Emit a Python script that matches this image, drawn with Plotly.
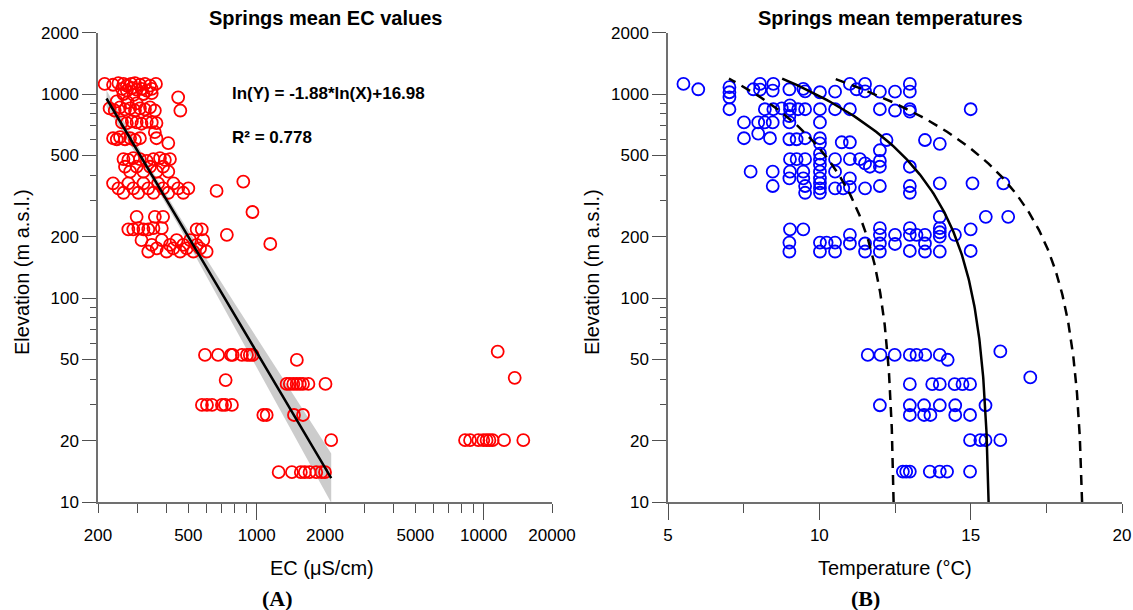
import numpy as np
import plotly.graph_objects as go

W, H = 1133, 610

# ---------------- Panel A data: EC (uS/cm) vs elevation (m a.s.l.) ----------------
ec_uScm = [
    214, 233, 246, 259, 268, 280, 291, 306, 322, 339, 360,
    255, 268, 282, 296, 311, 328, 345,
    259, 287, 317, 345,
    451, 461,
    242, 270, 296,
    225, 237, 250, 263, 277, 291, 306, 322, 339, 356,
    255, 268, 282, 296, 311, 328, 345, 362,
    356, 362, 408,
    233, 242, 250, 263, 277, 291, 306,
    259, 272, 286, 306, 328, 351, 375, 394, 415,
    263, 277, 296, 317, 339, 362, 387, 408,
    233, 246, 259, 272, 286, 301, 317, 333, 351, 368, 387, 408, 430, 451, 475, 500,
    666, 873, 958,
    296, 356, 387,
    272, 286, 301, 317, 333, 351, 382, 544, 573,
    739, 1148,
    311, 333, 345, 363, 382, 401, 415, 429, 444, 460, 475, 492, 509, 526, 544, 563, 582, 602,
    592, 676, 770, 784, 861, 906, 933, 960,
    1503, 730,
    1355, 1400, 1450, 1500, 1550, 1600, 1690, 2010,
    574, 604, 636, 703, 727, 778,
    1070, 1107, 1460, 1600,
    2130,
    1250, 1430, 1565, 1630, 1710, 1830, 1930, 2000,
    11530, 13700,
    8280, 8710, 9470, 9960, 10300, 10600, 10950, 12300, 14950,
]
ec_elev_m = [
    1120, 1110, 1130, 1120, 1100, 1120, 1130, 1110, 1120, 1100, 1120,
    1060, 1040, 1070, 1050, 1060, 1040, 1060,
    1000, 990, 1000, 1010,
    963, 830,
    920, 910, 900,
    850, 830, 860, 840, 850, 830, 850, 840, 860, 830,
    726, 720, 735, 726, 715, 730, 726, 720,
    650, 607, 575,
    607, 600, 615, 600, 607, 595, 607,
    480, 475, 485, 480, 470, 480, 485, 475, 480,
    440, 416, 440, 416, 440, 416, 440, 416,
    365, 345, 328, 365, 345, 328, 365, 345, 328, 365, 345, 328, 365, 345, 328, 345,
    335, 372, 264,
    250, 250, 250,
    217, 217, 220, 217, 217, 220, 220, 217, 217,
    204, 184,
    192, 169, 182, 175, 192, 169, 182, 175, 192, 169, 182, 175, 192, 169, 182, 175, 192, 169,
    52.6, 52.6, 52.6, 52.6, 52.6, 52.6, 52.6, 52.6,
    49.7, 39.6,
    37.9, 37.9, 37.9, 37.9, 37.9, 37.9, 37.9, 37.9,
    29.9, 29.9, 29.9, 29.9, 29.9, 29.9,
    26.7, 26.7, 26.7, 26.7,
    20.1,
    14.0, 14.0, 14.0, 14.0, 14.0, 14.0, 14.0, 14.0,
    54.6, 40.6,
    20.1, 20.1, 20.1, 20.1, 20.1, 20.1, 20.1, 20.1, 20.1,
]

# regression ln(Y) = b*ln(X) + a, and its confidence band parameters
reg_slope = -1.88
reg_intercept = 16.98
reg_ec_range = [218, 2130]
band_c0, band_c1, band_center_ln = 0.05, 0.155, 5.9

# ---------------- Panel B data: temperature (C) vs elevation ----------------
temp_c = [
    5.51, 6.0, 7.03, 7.03, 7.03, 7.82, 8.04, 8.04, 8.48, 8.46, 9.01, 9.47, 9.53, 10.02, 10.52,
    11.01, 11.23, 11.51, 11.51, 12.0, 12.5, 12.99, 12.99,
    7.03, 8.2, 8.48, 8.76, 9.03, 9.03, 9.3, 9.53, 10.02, 10.52, 11.01, 12.0, 12.5, 12.99, 12.99, 15.0,
    7.51, 7.98, 8.2, 8.46, 9.01, 9.01, 10.02,
    7.51, 7.98, 8.37, 9.01, 9.25, 9.53, 10.02, 10.02, 10.74, 11.01, 12.22, 13.49, 13.98,
    9.03, 9.25, 9.53, 10.02, 10.02, 10.02, 10.52, 11.01, 11.34, 11.51, 11.67, 12.0, 12.0, 12.0, 12.99,
    7.73, 8.46, 9.03, 9.47, 10.02, 10.52,
    8.46, 9.01, 9.47, 9.53, 9.53, 10.02, 10.02, 10.02, 10.02, 10.52, 10.79, 11.01, 11.01, 11.51,
    12.0, 12.99, 12.99, 13.98, 15.06, 16.08,
    9.03, 9.47, 9.01, 9.01, 10.02, 10.02, 10.24, 10.52, 10.52, 11.01, 11.01, 11.51, 11.51, 12.0,
    12.0, 12.0, 12.0, 12.5, 12.5, 12.99, 12.99, 12.99, 13.21, 13.49, 13.49, 13.49, 13.98, 13.98,
    13.98, 13.98, 13.98, 14.48, 15.0, 15.0, 15.5, 16.24,
    11.6, 12.02, 12.49, 12.99, 13.21, 13.5, 13.98, 14.24, 15.98, 16.97,
    12.99, 13.73, 13.98, 14.47, 14.73, 14.98,
    12.0, 12.99, 13.46, 13.98, 14.49, 15.49,
    12.99, 13.46, 13.67, 14.49, 14.98,
    14.98, 15.32, 15.49, 15.98,
    12.76, 12.87, 12.99, 13.65, 13.98, 14.22, 14.98,
]
temp_elev_m = [
    1120, 1055, 1080, 1020, 963, 1055, 1120, 1050, 1120, 1040, 1055, 1060, 1030, 1020, 1027,
    1120, 1055, 1120, 1030, 1027, 1027, 1120, 1027,
    842, 842, 842, 850, 880, 842, 842, 842, 842, 842, 842, 842, 830, 842, 820, 842,
    726, 726, 726, 726, 780, 726, 726,
    607, 640, 607, 600, 600, 607, 607, 573, 580, 580, 595, 595, 570,
    479, 479, 479, 510, 479, 450, 479, 479, 479, 457, 440, 470, 530, 440, 440,
    416, 416, 416, 416, 416, 416,
    354, 386, 386, 354, 328, 386, 365, 345, 328, 345, 345, 386, 350, 345,
    354, 354, 328, 365, 365, 365,
    217, 217, 187, 169, 187, 169, 187, 187, 169, 204, 185, 185, 169, 220,
    204, 185, 169, 204, 184, 220, 204, 170, 204, 204, 185, 169, 250, 220,
    210, 200, 169, 204, 217, 170, 250, 250,
    52.6, 52.6, 52.6, 52.6, 52.6, 52.6, 52.6, 49.8, 54.7, 40.8,
    37.8, 37.8, 37.8, 37.8, 37.8, 37.8,
    29.8, 29.8, 29.8, 29.8, 29.8, 29.8,
    26.7, 26.7, 26.7, 26.7, 26.7,
    20.1, 20.1, 20.1, 20.1,
    14.1, 14.1, 14.1, 14.1, 14.1, 14.1, 14.1,
]

# lapse-rate lines T = T0 - k*h (mean and bounds)
lapse_mean = (15.65, 0.00578)
lapse_low = (12.50, 0.00461)
lapse_high = (18.75, 0.00694)
lapse_elev_range = [10, 1190]

# ticks
ec_tick_labels = [200, 500, 1000, 2000, 5000, 10000, 20000]
ec_tick_minor = [300, 400, 600, 700, 800, 900, 3000, 4000, 6000, 7000, 8000, 9000]
ec_tick_decades = [1000, 10000]
elev_tick_labels = [10, 20, 50, 100, 200, 500, 1000, 2000]
elev_tick_minor = [30, 40, 60, 70, 80, 90, 300, 400, 600, 700, 800, 900]
temp_tick_labels = [5, 10, 15, 20]
temp_tick_all = [5, 7.5, 10, 12.5, 15, 17.5, 20]
temp_tick_long = [5, 10, 15]

assert len(ec_uScm) == len(ec_elev_m), (len(ec_uScm), len(ec_elev_m))
assert len(temp_c) == len(temp_elev_m), (len(temp_c), len(temp_elev_m))

FONT = "Liberation Sans, Arial, sans-serif"
AXC = "#707070"

fig = go.Figure()

# --- panel A: confidence band, points, regression line
lnx = np.linspace(np.log(reg_ec_range[0]), np.log(reg_ec_range[1]), 120)
lny = reg_intercept + reg_slope * lnx
hw = np.sqrt(band_c0 ** 2 + (band_c1 * (lnx - band_center_ln)) ** 2)
bx = np.concatenate([np.exp(lnx), np.exp(lnx[::-1])])
by = np.concatenate([np.exp(lny + hw), np.exp((lny - hw)[::-1])])
fig.add_trace(go.Scatter(x=bx, y=by, fill="toself", fillcolor="rgba(170,170,170,0.6)",
                         line=dict(width=0), mode="lines", hoverinfo="skip",
                         xaxis="x", yaxis="y", showlegend=False))
fig.add_trace(go.Scatter(x=ec_uScm, y=ec_elev_m, mode="markers",
                         marker=dict(symbol="circle-open", size=12, color="#ff0000",
                                     line=dict(width=1.8, color="#ff0000")),
                         xaxis="x", yaxis="y", showlegend=False))
fig.add_trace(go.Scatter(x=np.exp(lnx), y=np.exp(lny), mode="lines",
                         line=dict(color="black", width=2.5),
                         xaxis="x", yaxis="y", showlegend=False))
fig.add_trace(go.Scatter(x=[], y=[], xaxis="x3", yaxis="y", showlegend=False))

# --- panel B: points and lapse-rate curves
fig.add_trace(go.Scatter(x=temp_c, y=temp_elev_m, mode="markers",
                         marker=dict(symbol="circle-open", size=12, color="#0000ff",
                                     line=dict(width=1.8, color="#0000ff")),
                         xaxis="x2", yaxis="y2", showlegend=False))
h = np.logspace(np.log10(lapse_elev_range[0]), np.log10(lapse_elev_range[1]), 200)
for (t0, k), dash in [(lapse_low, "10px,7px"), (lapse_high, "10px,7px"), (lapse_mean, "solid")]:
    fig.add_trace(go.Scatter(x=t0 - k * h, y=h, mode="lines",
                             line=dict(color="black", width=2.5, dash=dash),
                             xaxis="x2", yaxis="y2", showlegend=False))
fig.add_trace(go.Scatter(x=[], y=[], xaxis="x4", yaxis="y2", showlegend=False))

xA = [98 / W, 552 / W]
xB = [668 / W, 1122 / W]
ydom = [1 - 502 / H, 1 - 32.6 / H]

tickfont = dict(family=FONT, size=17, color="black")
common = dict(showgrid=False, zeroline=False, showline=True, linecolor=AXC, linewidth=1.5,
              ticks="outside", tickcolor="#505050", tickwidth=1.3, tickfont=tickfont,
              automargin=False, fixedrange=True)

ec_all = sorted(ec_tick_labels + ec_tick_minor)
fig.update_layout(
    width=W, height=H, margin=dict(l=0, r=0, t=0, b=0),
    paper_bgcolor="white", plot_bgcolor="white", showlegend=False,
    xaxis=dict(domain=xA, type="log", range=[np.log10(200), np.log10(20000)], anchor="y",
               tickmode="array", tickvals=ec_all,
               ticktext=[str(v) if v in ec_tick_labels else "" for v in ec_all],
               ticklen=9, ticklabelstandoff=8, **common),
    xaxis3=dict(overlaying="x", type="log", range=[np.log10(200), np.log10(20000)], anchor="y",
                tickmode="array", tickvals=ec_tick_decades, showticklabels=False,
                ticks="outside", ticklen=17, tickcolor="#505050", tickwidth=1.3,
                showline=False, showgrid=False, zeroline=False, fixedrange=True),
    yaxis=dict(domain=ydom, type="log", range=[1, np.log10(2000)], anchor="x",
               tickmode="array", tickvals=elev_tick_labels,
               ticktext=[str(v) for v in elev_tick_labels], ticklen=14,
               minor=dict(tickmode="array", tickvals=elev_tick_minor, ticks="outside",
                          ticklen=6, tickcolor="#505050", tickwidth=1.3),
               **common),
    xaxis2=dict(domain=xB, range=[5, 20], anchor="y2",
                tickmode="array", tickvals=temp_tick_all,
                ticktext=[str(v) if v in temp_tick_labels else "" for v in temp_tick_all],
                ticklen=9, ticklabelstandoff=8, **common),
    xaxis4=dict(overlaying="x2", range=[5, 20], anchor="y2",
                tickmode="array", tickvals=temp_tick_long, showticklabels=False,
                ticks="outside", ticklen=17, tickcolor="#505050", tickwidth=1.3,
                showline=False, showgrid=False, zeroline=False, fixedrange=True),
    yaxis2=dict(domain=ydom, type="log", range=[1, np.log10(2000)], anchor="x2",
                tickmode="array", tickvals=elev_tick_labels,
                ticktext=[str(v) for v in elev_tick_labels], ticklen=14,
                minor=dict(tickmode="array", tickvals=elev_tick_minor, ticks="outside",
                           ticklen=6, tickcolor="#505050", tickwidth=1.3),
                **common),
)

def ann(text, x, y, size, bold=False, angle=0, xanchor="center", family=FONT):
    fig.add_annotation(text=f"<b>{text}</b>" if bold else text, x=x / W, y=1 - y / H,
                       xref="paper", yref="paper", showarrow=False, textangle=angle,
                       xanchor=xanchor, yanchor="middle",
                       font=dict(family=family, size=size, color="black"))

ann("Springs mean EC values", 325, 18, 20, bold=True)
ann("Springs mean temperatures", 890, 18, 20, bold=True)
ann("EC (μS/cm)", 322, 568, 20)
ann("Temperature (°C)", 895, 568, 20)
ann("Elevation (m a.s.l.)", 22, 272, 20, angle=-90)
ann("Elevation (m a.s.l.)", 592, 272, 20, angle=-90)
ann("ln(Y) = -1.88*ln(X)+16.98", 230, 93, 17, bold=True, xanchor="left")
ann("R² = 0.778", 230, 137, 17, bold=True, xanchor="left")
ann("(A)", 277, 598, 22, bold=True, family="Liberation Serif, Times New Roman, serif")
ann("(B)", 865, 598, 22, bold=True, family="Liberation Serif, Times New Roman, serif")

fig.write_html("out.html")
